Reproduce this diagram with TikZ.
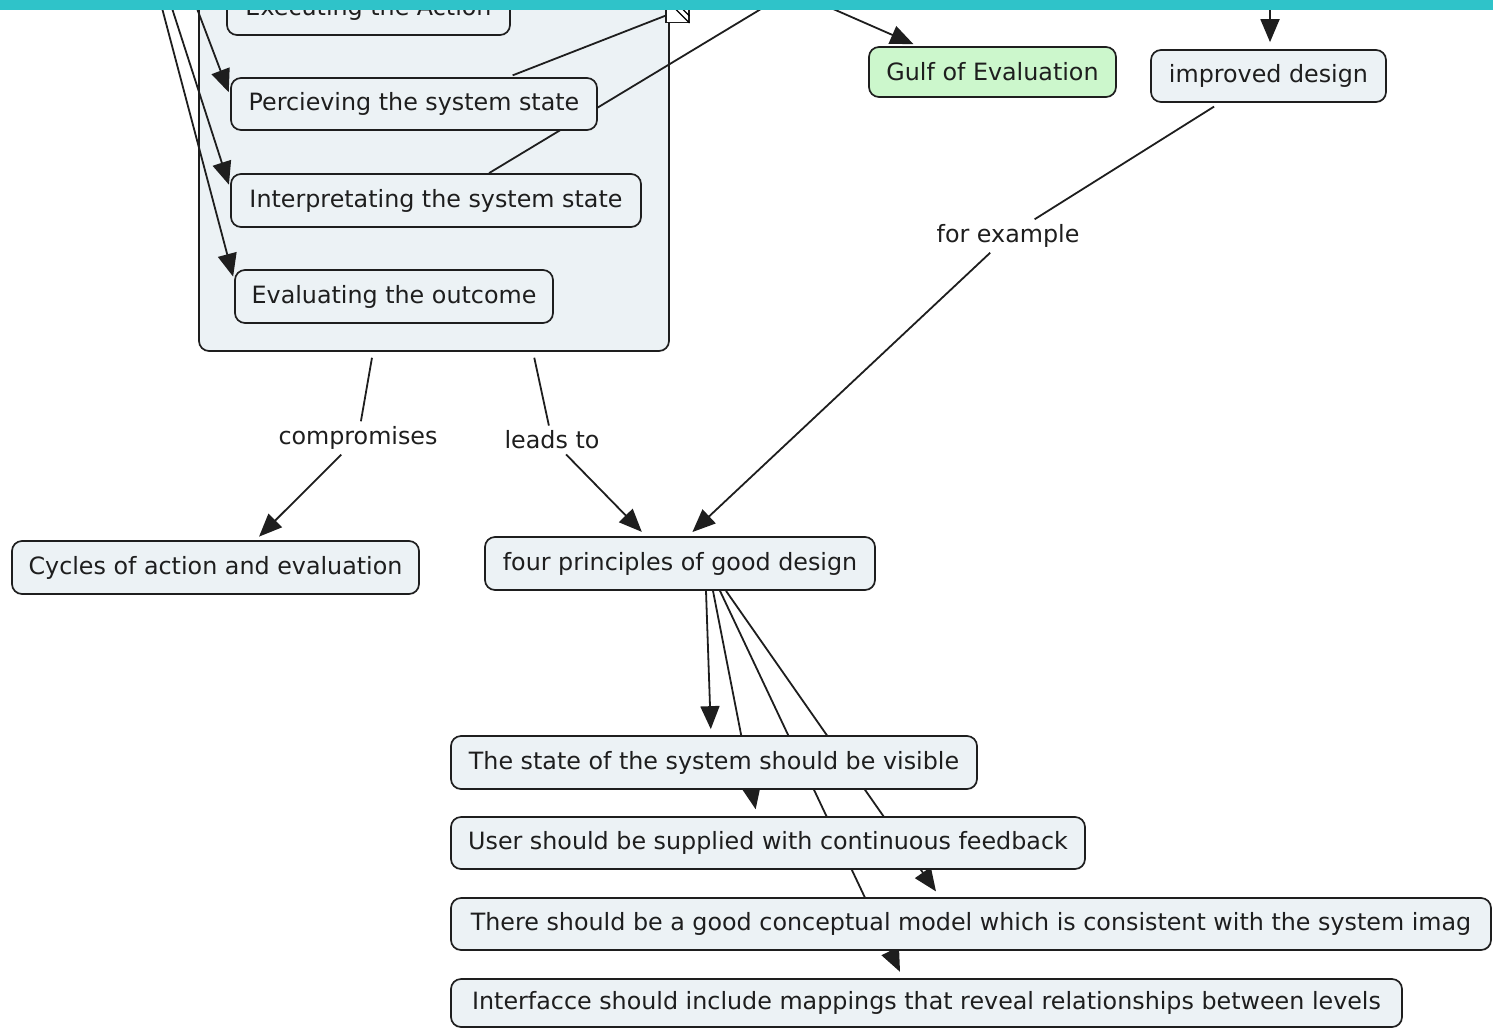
\documentclass[tikz,border=0pt]{standalone}
\usepackage{fontspec}
\newfontfamily\mapfont{DejaVu Sans}
\usetikzlibrary{arrows.meta}
\definecolor{boxgray}{RGB}{236,242,245}
\definecolor{gulfgreen}{RGB}{204,247,204}
\definecolor{barteal}{RGB}{47,195,201}
\definecolor{inkgray}{RGB}{30,30,30}
\pgfdeclarelayer{nest}
\pgfdeclarelayer{edges}
\pgfsetlayers{nest,edges,main}
\tikzset{
  concept/.style={draw=inkgray, fill=boxgray, rounded corners=10pt, line width=1.7pt, inner sep=0pt, text=inkgray, font=\mapfont\fontsize{23.8}{28}\selectfont},
  linkword/.style={inner sep=5pt, text=inkgray, font=\mapfont\fontsize{23.8}{28}\selectfont},
  link/.style={line width=1.8pt, draw=inkgray},
  arrowlink/.style={link, -{Triangle[length=23pt,width=19pt]}},
}
\begin{document}
\begin{tikzpicture}[x=1pt,y=-1pt]
	\useasboundingbox (0,0) rectangle (1493,1029);
	\clip (0,0) rectangle (1493,1029);

	% nested concept
	\begin{pgfonlayer}{nest}
		\node[concept, minimum width=470pt, minimum height=400pt] (cont) at (434,151) {};
	\end{pgfonlayer}
	\node[concept, minimum width=283pt, minimum height=52pt] (exec) at (368.5,9) {Executing the Action};
	\node[concept, minimum width=366pt, minimum height=52pt] (perc) at (414,104) {Percieving the system state};
	\node[concept, minimum width=410pt, minimum height=53pt] (interp) at (436,200.5) {Interpretating the system state};
	\node[concept, minimum width=318pt, minimum height=53pt] (eval) at (394,296.5) {Evaluating the outcome};
	\node[draw=inkgray, fill=white, line width=1.2pt, minimum size=23pt, inner sep=0pt] (icon) at (677.5,11) {};
	\draw[line width=1.1pt] (icon.north west) -- (icon.south east);
	\draw[line width=1.1pt] ([xshift=7pt]icon.north west) -- ([yshift=7pt]icon.south east);

	% concepts
	\node[concept, fill=gulfgreen, minimum width=247pt, minimum height=50pt] (gulf) at (992.5,72) {Gulf of Evaluation};
	\node[concept, minimum width=235pt, minimum height=52pt] (impr) at (1268.5,76) {improved design};
	\node[concept, minimum width=407pt, minimum height=53pt] (cycles) at (215.5,567.5) {Cycles of action and evaluation};
	\node[concept, minimum width=390pt, minimum height=53pt] (four) at (680,563.5) {four principles of good design};
	\node[concept, minimum width=526pt, minimum height=53pt] (vis) at (714,762.5) {The state of the system should be visible};
	\node[concept, minimum width=634pt, minimum height=52pt] (fb) at (768,843) {User should be supplied with continuous feedback};
	\node[concept, minimum width=1040pt, minimum height=52pt] (model) at (971,924) {There should be a good conceptual model which is consistent with the system imag};
	\node[concept, minimum width=951pt, minimum height=48pt] (map) at (926.5,1003) {Interfacce should include mappings that reveal relationships between levels};

	% linking words
	\node[linkword] (comp) at (358,438) {compromises};
	\node[linkword] (leads) at (552,440) {leads to};
	\node[linkword] (forex) at (1008,236) {for example};

	% ends outside the view
	\coordinate (srcP) at (171,-60);
	\coordinate (srcI) at (150,-60);
	\coordinate (srcE) at (144,-60);
	\coordinate (srcX) at (809,-20);
	\coordinate (srcG) at (767,-20);
	\coordinate (srcD) at (1270,-20);

	\begin{pgfonlayer}{edges}
		\draw[arrowlink, shorten >=4pt] (srcP) -- ([yshift=8pt]perc.west);
		\draw[arrowlink, shorten >=4pt] (srcI) -- ([yshift=12pt]interp.west);
		\draw[arrowlink, shorten >=4pt] (srcE) -- ([yshift=16pt]eval.west);
		\draw[link, shorten <=5pt] ([xshift=94pt]perc.north) -- (icon);
		\draw[link] ([xshift=53pt]interp.north) -- (srcX);
		\draw[arrowlink, shorten >=5pt] (srcG) -- ([xshift=-74.5pt]gulf.north);
		\draw[arrowlink, shorten >=7pt] (srcD) -- ([xshift=1.5pt]impr.north);
		\draw[link, shorten <=6pt] ([xshift=-61pt]cont.south) -- (comp);
		\draw[arrowlink, shorten >=5pt] (comp) -- ([xshift=40pt]cycles.north);
		\draw[link, shorten <=6pt] ([xshift=99pt]cont.south) -- (leads);
		\draw[arrowlink, shorten >=6pt] (leads) -- ([xshift=-34pt]four.north);
		\draw[link, shorten <=7pt] ([xshift=-48.5pt]impr.south) -- (forex);
		\draw[arrowlink, shorten >=6pt] (forex) -- ([xshift=8pt]four.north);
		\draw[arrowlink, shorten >=6pt] ([xshift=26pt]four.south) -- ([xshift=-3pt]vis.north);
		\draw[arrowlink, shorten >=7pt] ([xshift=33pt]four.south) -- ([xshift=-11pt]fb.north);
		\draw[arrowlink, shorten >=7pt] ([xshift=40pt]four.south) -- ([xshift=-23.5pt]map.north);
		\draw[arrowlink, shorten >=7pt] ([xshift=46pt]four.south) -- ([xshift=-31pt]model.north);
	\end{pgfonlayer}

	% window bar
	\fill[barteal] (0,0) rectangle (1493,10);
\end{tikzpicture}
\end{document}
